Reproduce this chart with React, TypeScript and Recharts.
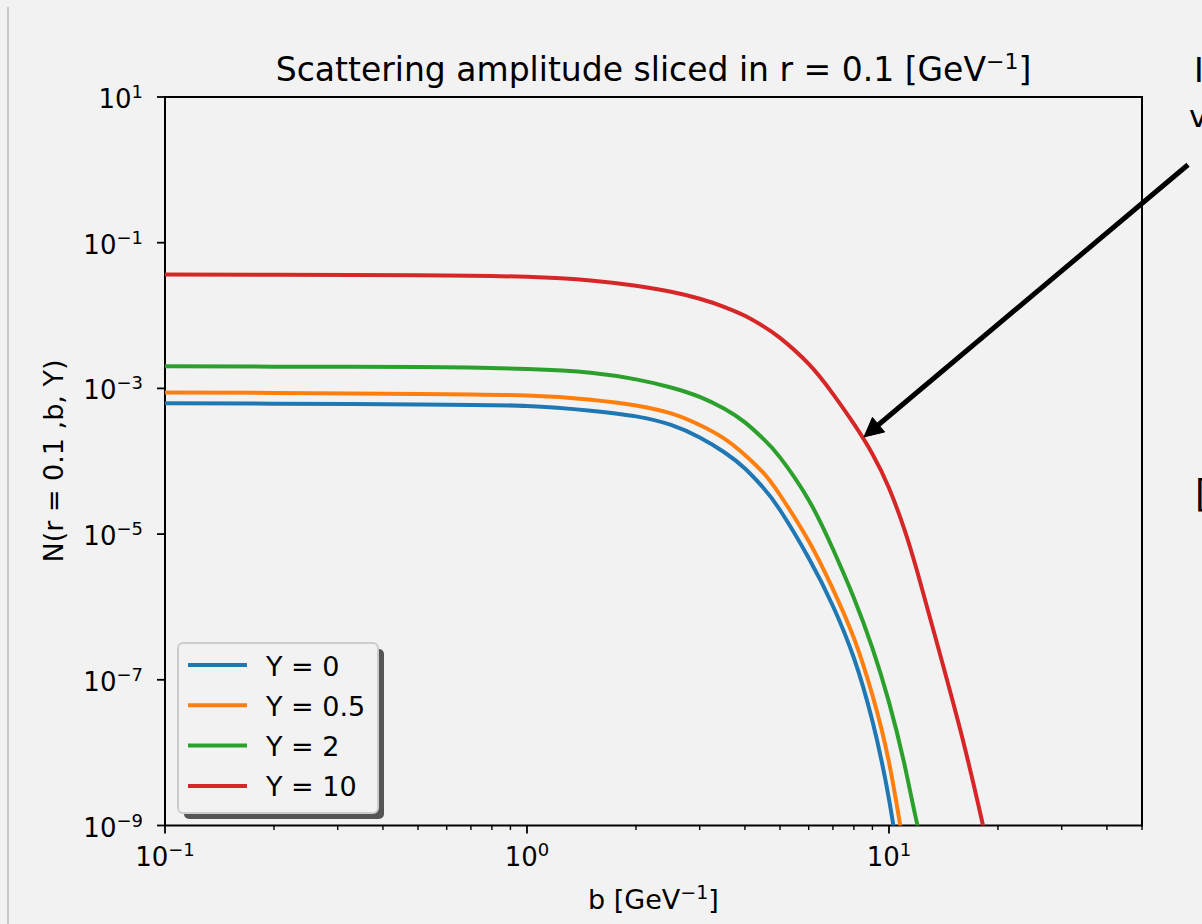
import React from 'react';
import { LineChart, Line, XAxis, YAxis, Legend, ReferenceArea, ReferenceLine } from 'recharts';

// ---- data ----
const B_VALUES = [0.1, 0.2, 0.5, 1, 1.5, 2, 2.5, 3, 3.5, 4, 4.5, 5, 6, 7, 8, 9, 10, 11, 12, 14, 16, 18, 20];

const N_Y0 = [6.26e-4, 6.18e-4, 6.03e-4, 5.75e-4, 4.94e-4, 4.13e-4, 3.15e-4, 2.12e-4, 1.34e-4, 7.96e-5, 4.3e-5, 2.14e-5, 4.7e-6, 1.03e-6, 1.99e-7, 2.71e-8, 2.3e-9, 1.1e-10];
const N_Y05 = [8.76e-4, 8.68e-4, 8.41e-4, 8.01e-4, 7.0e-4, 5.84e-4, 4.54e-4, 3.15e-4, 2.06e-4, 1.22e-4, 6.91e-5, 3.44e-5, 8.04e-6, 1.76e-6, 3.74e-7, 6.16e-8, 7.4e-9, 4.88e-10];
const N_Y2 = [2.02e-3, 1.99e-3, 1.96e-3, 1.85e-3, 1.64e-3, 1.33e-3, 1.03e-3, 7.64e-4, 5.28e-4, 3.41e-4, 2.02e-4, 1.13e-4, 2.94e-5, 6.24e-6, 1.33e-6, 2.73e-7, 4.94e-8, 7.4e-9, 9.78e-10, 3.65e-11];
const N_Y10 = [0.0366, 0.0362, 0.0357, 0.034, 0.0303, 0.0256, 0.0212, 0.017, 0.0132, 0.00991, 7.11e-3, 4.94e-3, 2.17e-3, 8.41e-4, 3.25e-4, 1.26e-4, 4.3e-5, 1.21e-5, 2.92e-6, 1.81e-7, 1.49e-8, 1.26e-9, 1.18e-10];

const SERIES_KEYS = ['y0', 'y05', 'y2', 'y10'];
const SERIES_NAMES = ['Y = 0', 'Y = 0.5', 'Y = 2', 'Y = 10'];
const SERIES_COLORS = ['#1f77b4', '#ff7f0e', '#2ca02c', '#d62728'];
const SERIES_VALUES = [N_Y0, N_Y05, N_Y2, N_Y10];

const X_DOMAIN = [0.1, 50];
const Y_DOMAIN = [1e-9, 10];
const X_MAJOR_TICKS = [0.1, 1, 10];
const X_MINOR_TICKS = [0.2, 0.3, 0.4, 0.5, 0.6, 0.7, 0.8, 0.9, 2, 3, 4, 5, 6, 7, 8, 9, 20, 30, 40, 50];
const Y_TICKS = [1e-9, 1e-7, 1e-5, 1e-3, 1e-1, 10];

const ARROW_TAIL = { b: 67.0, n: 1.175 };
const ARROW_HEAD = { b: 8.53, n: 2.157e-4 };

const TITLE_MAIN = 'Scattering amplitude sliced in r = 0.1 [GeV';
const X_LABEL_MAIN = 'b [GeV';
const Y_LABEL = 'N(r = 0.1 ,b, Y)';

// ---- build table ----
const DATA = B_VALUES.map((b, i) => {
  const row: Record<string, number> = { b };
  SERIES_KEYS.forEach((k, s) => {
    if (i < SERIES_VALUES[s].length) row[k] = SERIES_VALUES[s][i];
  });
  return row;
});

const FONT = '"DejaVu Sans", Verdana, sans-serif';

const supText = (exp: number) => (exp < 0 ? '\u2212' + Math.abs(exp) : String(exp));

const XTick = (props: any) => {
  const { x, y, payload } = props;
  const v = payload.value;
  const lg = Math.log10(v);
  const exp = Math.round(lg);
  const major = Math.abs(lg - exp) < 1e-6;
  return (
    <g>
      <line x1={x} x2={x} y1={y} y2={y + (major ? 8 : 4.5)} stroke="#000" strokeWidth={major ? 1.8 : 1.4} />
      {major && (
        <text x={x} y={y + 40.5} textAnchor="middle" fontFamily={FONT} fontSize={26} fill="#000">
          10<tspan dy={-10} fontSize={18}>{supText(exp)}</tspan>
        </text>
      )}
    </g>
  );
};

const YTick = (props: any) => {
  const { x, y, payload } = props;
  const exp = Math.round(Math.log10(payload.value));
  return (
    <g>
      <line x1={x - 8} x2={x} y1={y} y2={y} stroke="#000" strokeWidth={1.8} />
      <text x={x - 22} y={y + 11} textAnchor="end" fontFamily={FONT} fontSize={26} fill="#000">
        10<tspan dy={-10} fontSize={18}>{supText(exp)}</tspan>
      </text>
    </g>
  );
};

const ArrowShape = (props: any) => {
  const { x1, y1, x2, y2 } = props;
  const dx = x2 - x1;
  const dy = y2 - y1;
  const len = Math.sqrt(dx * dx + dy * dy);
  const ux = dx / len;
  const uy = dy / len;
  const headLen = 19;
  const headHalf = 9.5;
  const bx = x2 - ux * headLen;
  const by = y2 - uy * headLen;
  const px = -uy;
  const py = ux;
  return (
    <g>
      <line x1={x1} y1={y1} x2={bx + ux * 2} y2={by + uy * 2} stroke="#000" strokeWidth={5} />
      <polygon
        points={`${x2},${y2} ${bx + px * headHalf},${by + py * headHalf} ${bx - px * headHalf},${by - py * headHalf}`}
        fill="#000"
        stroke="#000"
        strokeWidth={1}
      />
    </g>
  );
};

const LegendBox = (props: any) => {
  const payload = [...(props.payload || [])].sort(
    (a: any, b: any) => SERIES_NAMES.indexOf(a.value) - SERIES_NAMES.indexOf(b.value)
  );
  return (
    <svg width={215} height={185} style={{ display: 'block' }}>
      <rect x={7} y={7} width={200} height={170} rx={5} fill="#555555" />
      <rect x={1} y={1} width={200} height={170} rx={5} fill="#f2f2f2" stroke="#cccccc" strokeWidth={2} />
      {payload.map((p: any, i: number) => (
        <g key={p.value}>
          <line x1={11} x2={70} y1={23 + 40.3 * i} y2={23 + 40.3 * i} stroke={p.color} strokeWidth={4} />
          <text x={89} y={33.5 + 40.3 * i} fontFamily={FONT} fontSize={27} fill="#000">
            {p.value}
          </text>
        </g>
      ))}
    </svg>
  );
};

export default function App() {
  return (
    <div
      style={{
        position: 'absolute',
        left: 0,
        top: 0,
        width: 1202,
        height: 924,
        background: '#f2f2f2',
        overflow: 'hidden',
      }}
    >
      <div style={{ position: 'absolute', left: 7, top: 7, width: 2, height: 917, background: '#c9c9c9' }} />
      <LineChart
        width={1202}
        height={924}
        data={DATA}
        margin={{ top: 97, right: 60, bottom: 38.5, left: 85 }}
        style={{ fontFamily: FONT }}
      >
        <XAxis
          dataKey="b"
          type="number"
          scale="log"
          domain={X_DOMAIN}
          ticks={[...X_MAJOR_TICKS, ...X_MINOR_TICKS].sort((a, b) => a - b)}
          interval={0}
          tick={<XTick />}
          tickLine={false}
          axisLine={false}
          tickSize={0}
          tickMargin={0}
          height={60}
          allowDataOverflow
        />
        <YAxis
          type="number"
          scale="log"
          domain={Y_DOMAIN}
          ticks={Y_TICKS}
          interval={0}
          tick={<YTick />}
          tickLine={false}
          axisLine={false}
          tickSize={0}
          tickMargin={0}
          width={80}
          allowDataOverflow
        />
        {SERIES_KEYS.map((k, i) => (
          <Line
            key={k}
            dataKey={k}
            name={SERIES_NAMES[i]}
            stroke={SERIES_COLORS[i]}
            strokeWidth={4}
            dot={false}
            activeDot={false}
            type="natural"
            isAnimationActive={false}
          />
        ))}
        <ReferenceArea
          x1={X_DOMAIN[0]}
          x2={X_DOMAIN[1]}
          y1={Y_DOMAIN[0]}
          y2={Y_DOMAIN[1]}
          fill="none"
          fillOpacity={0}
          stroke="#000"
          strokeWidth={2}
          ifOverflow="visible"
        />
        <ReferenceLine
          segment={[
            { x: ARROW_TAIL.b, y: ARROW_TAIL.n },
            { x: ARROW_HEAD.b, y: ARROW_HEAD.n },
          ]}
          ifOverflow="visible"
          shape={ArrowShape}
        />
        <Legend
          layout="vertical"
          align="center"
          verticalAlign="middle"
          content={LegendBox}
          wrapperStyle={{ left: 177, top: 642, width: 215, height: 185, bottom: 'auto', right: 'auto' }}
        />
        <text x={653.5} y={81} textAnchor="middle" fontFamily={FONT} fontSize={33} fill="#000">
          {TITLE_MAIN}
          <tspan dy={-12} fontSize={22}>{supText(-1)}</tspan>
          <tspan dy={12}>]</tspan>
        </text>
        <text x={653.5} y={909} textAnchor="middle" fontFamily={FONT} fontSize={27} fill="#000">
          {X_LABEL_MAIN}
          <tspan dy={-10} fontSize={19}>{supText(-1)}</tspan>
          <tspan dy={10}>]</tspan>
        </text>
        <text
          x={63}
          y={461}
          transform="rotate(-90, 63, 461)"
          textAnchor="middle"
          fontFamily={FONT}
          fontSize={27}
          fill="#000"
        >
          {Y_LABEL}
        </text>
        <text x={1194} y={82} fontFamily={FONT} fontSize={33} fill="#000">I</text>
        <text x={1189} y={127} fontFamily={FONT} fontSize={31} fill="#000">v</text>
        <text x={1195} y={507} fontFamily={FONT} fontSize={37} fill="#000">[</text>
      </LineChart>
    </div>
  );
}
